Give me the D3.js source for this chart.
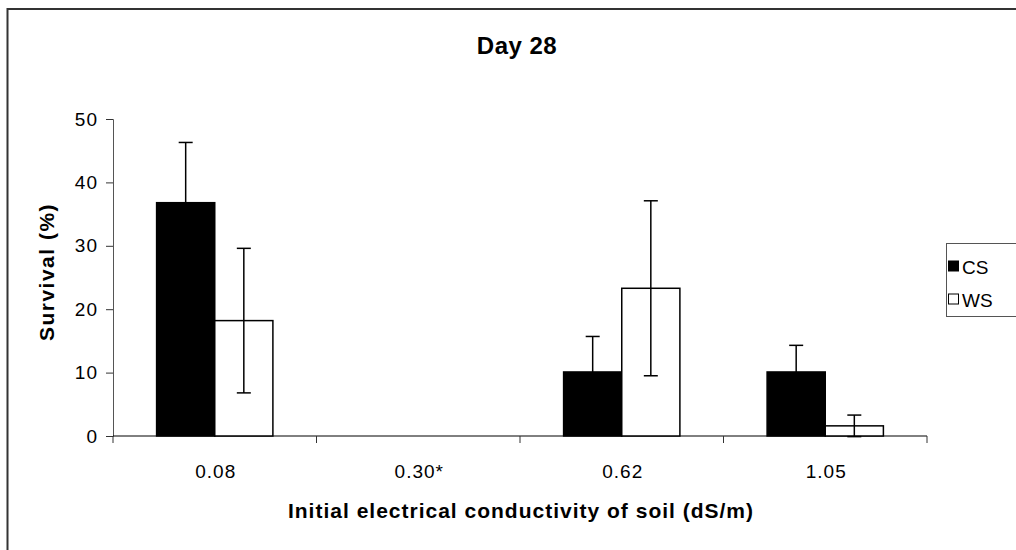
<!DOCTYPE html>
<html>
<head>
<meta charset="utf-8">
<script src="https://cdn.jsdelivr.net/npm/d3@7"></script>
<style>
  body { margin: 0; background: #fff; }
  svg { font-family: "Liberation Sans", Arial, sans-serif; }
</style>
</head>
<body>
<div class="chart"></div>
<script>
// data
const categories = ["0.08", "0.30*", "0.62", "1.05"];
const seriesNames = ["CS", "WS"];
const csValues = [36.8, 0, 10.1, 10.1];
const csErrors = [9.5, 0, 5.6, 4.2];
const wsValues = [18.2, 0, 23.3, 1.6];
const wsErrors = [11.4, 0, 13.8, 1.7];
const yTicks = [0, 10, 20, 30, 40, 50];

const W = 1016, H = 550;
const margin = { top: 119, left: 113, right: 89, bottom: 114 };
const width = W - margin.left - margin.right,
  height = H - margin.top - margin.bottom;

const svg = d3.select(".chart").append("svg")
  .attr("width", W).attr("height", H);

// outer chart border (right and bottom run off the picture)
svg.append("rect")
  .attr("x", 7.5).attr("y", 9).attr("width", 1020).attr("height", 560)
  .attr("fill", "none").attr("stroke", "#333").attr("stroke-width", 2);

svg.append("text")
  .attr("x", 517).attr("y", 54)
  .attr("text-anchor", "middle")
  .attr("font-size", "24px").attr("font-weight", "bold")
  .attr("letter-spacing", "0.5px")
  .text("Day 28");

const g = svg.append("g")
  .attr("transform", `translate(${margin.left},${margin.top})`);

let xScale = d3.scaleBand().domain(categories).range([0, width]);
let xInner = d3.scaleBand().domain(seriesNames)
  .range([0, xScale.bandwidth()]).paddingOuter(0.75).paddingInner(0);
let yScale = d3.scaleLinear().domain([0, 50]).range([height, 0]);

// y axis
const yAxis = g.append("g").attr("class", "y-axis")
  .call(d3.axisLeft(yScale).tickValues(yTicks).tickSize(7).tickPadding(8));
yAxis.select(".domain").attr("stroke", "#555");
yAxis.selectAll(".tick line").attr("stroke", "#333");
yAxis.selectAll("text").attr("font-size", "19px").attr("fill", "#000")
  .attr("letter-spacing", "1px")
  .attr("font-family", "Liberation Sans, Arial, sans-serif");

// x axis with ticks between categories
const xAxis = g.append("g").attr("class", "x-axis")
  .attr("transform", `translate(0,${height})`);
xAxis.append("line").attr("x1", 0).attr("x2", width)
  .attr("stroke", "#000");
xAxis.selectAll(".xt")
  .data(categories.concat(["end"]))
  .enter().append("line")
  .attr("x1", (d, i) => i * xScale.step())
  .attr("x2", (d, i) => i * xScale.step())
  .attr("y1", 0).attr("y2", 7)
  .attr("stroke", "#333");
xAxis.selectAll(".xl")
  .data(categories)
  .enter().append("text")
  .attr("x", d => xScale(d) + xScale.bandwidth() / 2 + 1)
  .attr("y", 42)
  .attr("text-anchor", "middle")
  .attr("font-size", "19px")
  .attr("letter-spacing", "1px")
  .text(d => d);

// bars
const rows = categories.map((c, i) => ({
  cat: c,
  items: [
    { s: "CS", v: csValues[i], e: csErrors[i] },
    { s: "WS", v: wsValues[i], e: wsErrors[i] }
  ]
}));

const groups = g.selectAll(".grp").data(rows).enter().append("g")
  .attr("transform", d => `translate(${xScale(d.cat)},0)`);

groups.selectAll("rect")
  .data(d => d.items.filter(o => o.v > 0))
  .enter().append("rect")
  .attr("x", d => xInner(d.s))
  .attr("width", xInner.bandwidth())
  .attr("y", d => yScale(d.v))
  .attr("height", d => height - yScale(d.v))
  .attr("fill", d => d.s === "CS" ? "#000" : "#fff")
  .attr("stroke", "#000")
  .attr("stroke-width", 1.5);

// error bars
const eb = groups.selectAll(".err")
  .data(d => d.items.filter(o => o.v > 0))
  .enter().append("g")
  .attr("stroke", "#000").attr("stroke-width", 1.5);
const cx = d => xInner(d.s) + xInner.bandwidth() / 2;
eb.append("line")
  .attr("x1", cx).attr("x2", cx)
  .attr("y1", d => yScale(d.v + d.e))
  .attr("y2", d => yScale(Math.max(0, d.v - d.e)));
eb.append("line")
  .attr("x1", d => cx(d) - 7).attr("x2", d => cx(d) + 7)
  .attr("y1", d => yScale(d.v + d.e)).attr("y2", d => yScale(d.v + d.e));
eb.append("line")
  .attr("x1", d => cx(d) - 7).attr("x2", d => cx(d) + 7)
  .attr("y1", d => yScale(d.v - d.e)).attr("y2", d => yScale(d.v - d.e));

// axis titles
svg.append("text")
  .attr("x", 521).attr("y", 518)
  .attr("text-anchor", "middle")
  .attr("font-size", "21px").attr("font-weight", "bold")
  .attr("letter-spacing", "1px")
  .text("Initial electrical conductivity of soil (dS/m)");

svg.append("text")
  .attr("transform", "translate(54,272) rotate(-90)")
  .attr("text-anchor", "middle")
  .attr("font-size", "21px").attr("font-weight", "bold")
  .attr("letter-spacing", "1.5px")
  .text("Survival (%)");

// legend
const legend = svg.append("g");
legend.append("rect")
  .attr("x", 946.5).attr("y", 243.5).attr("width", 80).attr("height", 73)
  .attr("fill", "#fff").attr("stroke", "#555").attr("stroke-width", 1);
seriesNames.forEach((s, i) => {
  legend.append("rect")
    .attr("x", 948.5).attr("y", 261 + i * 33)
    .attr("width", 10).attr("height", 10)
    .attr("fill", s === "CS" ? "#000" : "#fff")
    .attr("stroke", "#000");
  legend.append("text")
    .attr("x", 962).attr("y", 274 + i * 33)
    .attr("font-size", "19px")
    .text(s);
});
</script>
</body>
</html>
